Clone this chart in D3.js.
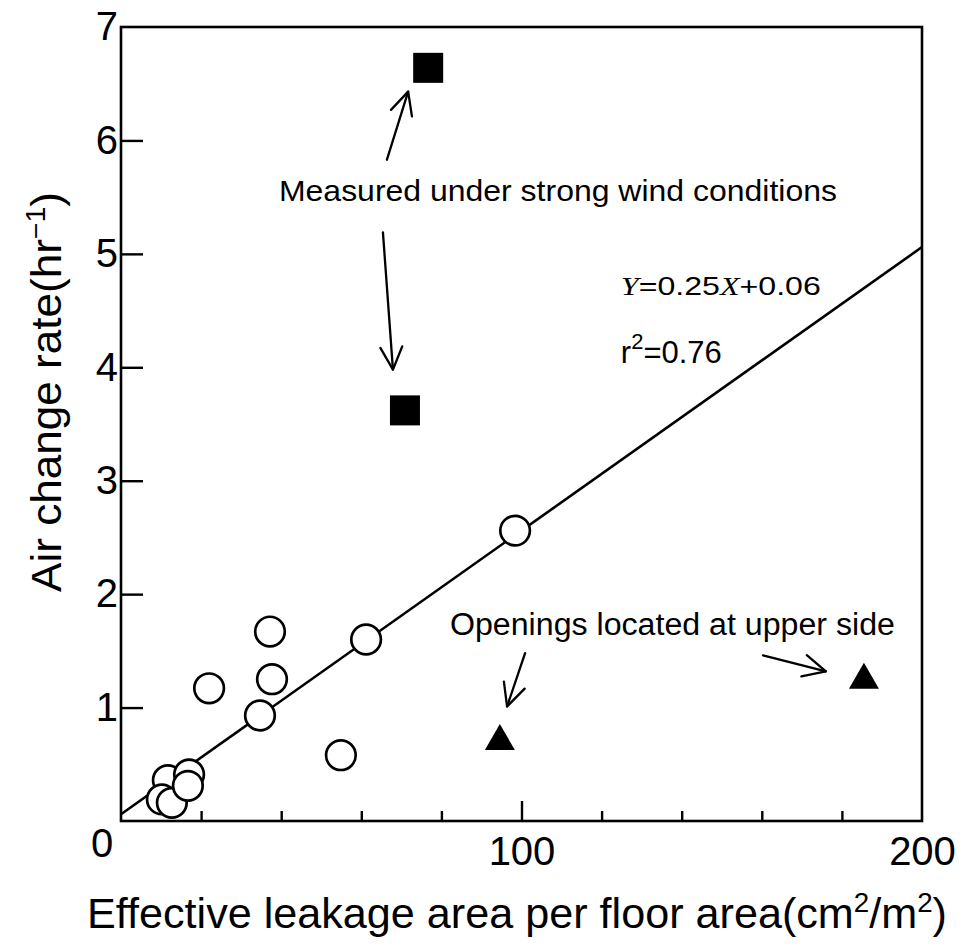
<!DOCTYPE html>
<html>
<head>
<meta charset="utf-8">
<script src="https://cdn.jsdelivr.net/npm/d3@7"></script>
<style>
  body { margin: 0; background: #fff; }
  svg { display: block; }
  text { font-family: "Liberation Sans", Arial, Helvetica, sans-serif; fill: #000; }
</style>
</head>
<body>
<svg id="chart" width="968" height="951"></svg>
<script>
// Ordinary measurements: leakage area (cm2/m2) and air change rate (1/hr)
const normalLeak = [37.2, 22.0, 37.7, 34.7, 54.9, 61.2, 98.4, 11.7, 10.2, 12.7, 17.0, 16.7];
const normalAch  = [1.67, 1.17, 1.25, 0.93, 0.58, 1.60, 2.56, 0.36, 0.19, 0.16, 0.41, 0.31];

// Measured under strong wind
const windLeak = [76.7, 70.9];
const windAch  = [6.64, 3.62];

// Openings located at the upper side
const upperLeak = [94.6, 185.5];
const upperAch  = [0.74, 1.28];

// Regression Y = 0.25 X + 0.06, X in units of 10 cm2/m2
const fitSlope = 0.25;
const fitIntercept = 0.06;
const fitXUnit = 10;
const fitR2 = "0.76";

// Axis ticks
const xMinorTicks = [20, 40, 60, 80, 120, 140, 160, 180];
const xMajorTicks = [100, 200];
const yTicks = [1, 2, 3, 4, 5, 6, 7];

// Annotation arrows (tail -> tip) in data coordinates
const arrowTails = [[66.4, 5.83], [65.4, 5.19], [100.9, 1.48], [160.3, 1.46]];
const arrowTips  = [[71.7, 6.43], [67.9, 3.98], [96.4, 1.01], [176.0, 1.32]];

// Annotation labels
const windNote = "Measured under strong wind conditions";
const windNotePos = [109.1, 5.47];
const upperNote = "Openings located at upper side";
const upperNotePos = [137.7, 1.64];
const eqPos = [124.8, 4.64];
const r2Pos = [124.8, 4.04];

const svg = d3.select("#chart");
const x = d3.scaleLinear().domain([0, 200]).range([121, 922]);
const y = d3.scaleLinear().domain([0, 7]).range([821, 27]);

const ink = "#000";
const serif = '"Liberation Serif", "Times New Roman", serif';

// Frame
svg.append("rect")
  .attr("x", x(0)).attr("y", y(7))
  .attr("width", x(200) - x(0)).attr("height", y(0) - y(7))
  .attr("fill", "none").attr("stroke", ink).attr("stroke-width", 2.6);

// Minor x ticks (inward)
const gxMinor = svg.append("g").attr("transform", `translate(0,${y(0)})`)
  .call(d3.axisBottom(x).tickValues(xMinorTicks).tickSize(-10).tickFormat(""));
// Major x ticks with labels
const gxMajor = svg.append("g").attr("transform", `translate(0,${y(0)})`)
  .call(d3.axisBottom(x).tickValues(xMajorTicks).tickSize(-20).tickPadding(16).tickFormat(d3.format("d")));
// y ticks with labels
const gy = svg.append("g").attr("transform", `translate(${x(0)},0)`)
  .call(d3.axisLeft(y).tickValues(yTicks).tickSize(-22).tickPadding(3).tickFormat(d3.format("d")));

[gxMinor, gxMajor, gy].forEach(g => {
  g.select(".domain").remove();
  g.selectAll(".tick line").attr("stroke", ink).attr("stroke-width", 2.4);
  g.selectAll(".tick text").attr("fill", ink)
    .style("font-family", '"Liberation Sans", Arial, sans-serif').style("font-size", "40px");
});
gxMajor.selectAll(".tick").filter(d => d === 200).select("line").remove();
gy.selectAll(".tick").filter(d => d === 7).select("line").remove();

// Shared origin label
svg.append("text")
  .attr("x", x(0) - 19).attr("y", y(0) + 36)
  .attr("text-anchor", "middle").style("font-size", "40px").text("0");

// Regression line
const fitLine = d3.line().x(d => x(d)).y(d => y(fitSlope * d / fitXUnit + fitIntercept));
svg.append("path")
  .datum([0, 200])
  .attr("d", fitLine)
  .attr("fill", "none").attr("stroke", ink).attr("stroke-width", 2.6);

// Open circles
svg.append("g").selectAll("circle")
  .data(normalLeak.map((v, i) => [v, normalAch[i]]))
  .join("circle")
  .attr("cx", d => x(d[0])).attr("cy", d => y(d[1]))
  .attr("r", 14.8)
  .attr("fill", "#fff").attr("stroke", ink).attr("stroke-width", 2.7);

// Filled squares
const sq = 30;
svg.append("g").selectAll("rect")
  .data(windLeak.map((v, i) => [v, windAch[i]]))
  .join("rect")
  .attr("x", d => x(d[0]) - sq / 2).attr("y", d => y(d[1]) - sq / 2)
  .attr("width", sq).attr("height", sq)
  .attr("fill", ink);

// Filled triangles
const triW = 30, triH = 26;
svg.append("g").selectAll("path")
  .data(upperLeak.map((v, i) => [v, upperAch[i]]))
  .join("path")
  .attr("d", d => {
    const cx = x(d[0]), cy = y(d[1]);
    return `M${cx},${cy - triH / 2}L${cx + triW / 2},${cy + triH / 2}L${cx - triW / 2},${cy + triH / 2}Z`;
  })
  .attr("fill", ink);

// Arrows with open heads
const headLen = 25, headAngle = 26 * Math.PI / 180;
const arrows = svg.append("g").attr("stroke", ink).attr("stroke-width", 2.3)
  .attr("fill", "none").attr("stroke-linecap", "round").attr("stroke-linejoin", "round");
arrowTails.forEach((t, i) => {
  const x1 = x(t[0]), y1 = y(t[1]);
  const x2 = x(arrowTips[i][0]), y2 = y(arrowTips[i][1]);
  const a = Math.atan2(y1 - y2, x1 - x2);
  const w1 = [x2 + headLen * Math.cos(a + headAngle), y2 + headLen * Math.sin(a + headAngle)];
  const w2 = [x2 + headLen * Math.cos(a - headAngle), y2 + headLen * Math.sin(a - headAngle)];
  arrows.append("path").attr("d", `M${x1},${y1}L${x2},${y2}`);
  arrows.append("path").attr("d", `M${w1[0]},${w1[1]}L${x2},${y2}L${w2[0]},${w2[1]}`);
});

// Notes
svg.append("text")
  .attr("x", x(windNotePos[0])).attr("y", y(windNotePos[1]))
  .attr("text-anchor", "middle").style("font-size", "30px")
  .attr("textLength", 558).attr("lengthAdjust", "spacingAndGlyphs")
  .text(windNote);
svg.append("text")
  .attr("x", x(upperNotePos[0])).attr("y", y(upperNotePos[1]))
  .attr("text-anchor", "middle").style("font-size", "31px")
  .attr("textLength", 445).attr("lengthAdjust", "spacingAndGlyphs")
  .text(upperNote);

// Fit equation
const eq = svg.append("text")
  .attr("x", x(eqPos[0])).attr("y", y(eqPos[1]))
  .style("font-size", "26px")
  .attr("textLength", 200).attr("lengthAdjust", "spacingAndGlyphs");
eq.append("tspan").style("font-family", serif).style("font-style", "italic").text("Y");
eq.append("tspan").text(`=${fitSlope}`);
eq.append("tspan").style("font-family", serif).style("font-style", "italic").text("X");
eq.append("tspan").text(`+${fitIntercept}`);

const r2 = svg.append("text")
  .attr("x", x(r2Pos[0])).attr("y", y(r2Pos[1]))
  .style("font-size", "31px");
r2.append("tspan").text("r");
r2.append("tspan").attr("dy", -14).style("font-size", "22px").text("2");
r2.append("tspan").attr("dy", 14).text(`=${fitR2}`);

// Axis titles
const xt = svg.append("text")
  .attr("x", 517).attr("y", 928)
  .attr("text-anchor", "middle").style("font-size", "42px")
  .attr("textLength", 860).attr("lengthAdjust", "spacingAndGlyphs");
xt.append("tspan").text("Effective leakage area per floor area(cm");
xt.append("tspan").attr("dy", -16).style("font-size", "27px").text("2");
xt.append("tspan").attr("dy", 16).text("/m");
xt.append("tspan").attr("dy", -16).style("font-size", "27px").text("2");
xt.append("tspan").attr("dy", 16).text(")");

const yt = svg.append("text")
  .attr("transform", "translate(61,392) rotate(-90)")
  .attr("text-anchor", "middle").style("font-size", "42px")
  .attr("textLength", 400).attr("lengthAdjust", "spacingAndGlyphs");
yt.append("tspan").text("Air change rate(hr");
yt.append("tspan").attr("dy", -16).style("font-size", "27px").text("\u22121");
yt.append("tspan").attr("dy", 16).text(")");
</script>
</body>
</html>
